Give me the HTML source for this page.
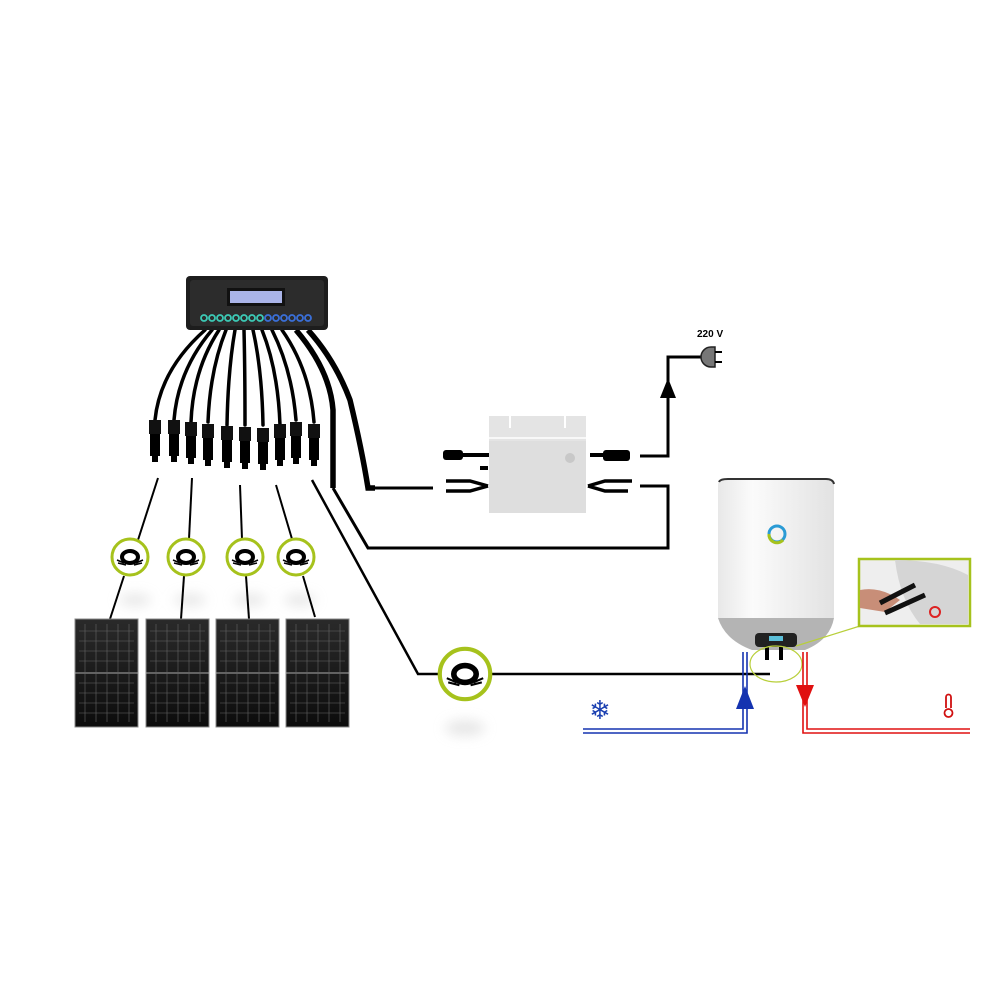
<!DOCTYPE html>
<html><head><meta charset="utf-8"><style>
html,body{margin:0;padding:0;background:#fff}
svg{display:block}
</style></head><body>
<svg width="1000" height="1000" viewBox="0 0 1000 1000" xmlns="http://www.w3.org/2000/svg">
<defs>
<filter id="bl" x="-50%" y="-50%" width="200%" height="200%"><feGaussianBlur stdDeviation="6"/></filter>
<linearGradient id="pg" x1="0" y1="0" x2="0" y2="1"><stop offset="0" stop-color="#2a2a2a"/><stop offset="1" stop-color="#0c0c0c"/></linearGradient>
<linearGradient id="hg" x1="0" y1="0" x2="1" y2="0"><stop offset="0" stop-color="#e8e8e8"/><stop offset="0.3" stop-color="#fbfbfb"/><stop offset="1" stop-color="#e2e2e2"/></linearGradient>
<g id="coil">
<circle r="18" fill="#fff" stroke="#a6c21c" stroke-width="3"/>
<ellipse cx="0" cy="0" rx="8" ry="6" fill="none" stroke="#000" stroke-width="4"/>
<path d="M-13,3 L-6,6 M13,3 L6,6 M-12,6 L-4,8 M12,6 L4,8" stroke="#000" stroke-width="1.5"/>
</g>
<g id="panel">
<rect x="0" y="0" width="63" height="108" fill="url(#pg)" stroke="#888" stroke-width="1"/>
<line x1="0" y1="54" x2="63" y2="54" stroke="#aaa" stroke-width="1"/>
<g stroke="#666" stroke-width="0.6">
<line x1="10" y1="5" x2="10" y2="103"/><line x1="21" y1="5" x2="21" y2="103"/><line x1="32" y1="5" x2="32" y2="103"/><line x1="43" y1="5" x2="43" y2="103"/><line x1="54" y1="5" x2="54" y2="103"/>
<line x1="4" y1="12" x2="59" y2="12"/><line x1="4" y1="22" x2="59" y2="22"/><line x1="4" y1="32" x2="59" y2="32"/><line x1="4" y1="42" x2="59" y2="42"/><line x1="4" y1="64" x2="59" y2="64"/><line x1="4" y1="74" x2="59" y2="74"/><line x1="4" y1="84" x2="59" y2="84"/><line x1="4" y1="94" x2="59" y2="94"/>
</g>
</g>
<g id="conn"><rect x="-6" y="0" width="12" height="14" fill="#111"/><rect x="-5" y="14" width="10" height="22" fill="#000"/><rect x="-3" y="36" width="6" height="6" fill="#000"/></g>
</defs>

<g fill="#ddd" filter="url(#bl)" opacity="0.7">
<ellipse cx="135" cy="600" rx="16" ry="6"/><ellipse cx="190" cy="600" rx="16" ry="6"/><ellipse cx="250" cy="600" rx="16" ry="6"/><ellipse cx="300" cy="600" rx="16" ry="6"/>
<ellipse cx="465" cy="728" rx="20" ry="8"/>
</g>

<g fill="none" stroke="#000" stroke-width="3.5" stroke-linecap="round">
<path d="M205,330 Q160,370 155,420"/>
<path d="M212,330 Q178,370 174,420"/>
<path d="M219,330 Q193,370 191,422"/>
<path d="M226,330 Q210,370 208,422"/>
<path d="M235,330 Q228,370 227,425"/>
<path d="M244,330 Q245,370 245,425"/>
<path d="M253,330 Q262,370 263,425"/>
<path d="M262,330 Q278,370 280,425"/>
<path d="M272,330 Q292,370 296,420"/>
<path d="M282,330 Q310,370 314,422"/>
</g>
<g fill="none" stroke="#000" stroke-width="5.5">
<path d="M296,330 Q330,370 333,410 L333,488"/>
<path d="M308,330 Q335,360 350,400 Q362,450 368,488 L375,488"/>
</g>
<use href="#conn" x="155" y="420"/><use href="#conn" x="174" y="420"/><use href="#conn" x="191" y="422"/><use href="#conn" x="208" y="424"/><use href="#conn" x="227" y="426"/><use href="#conn" x="245" y="427"/><use href="#conn" x="263" y="428"/><use href="#conn" x="280" y="424"/><use href="#conn" x="296" y="422"/><use href="#conn" x="314" y="424"/>

<rect x="186" y="276" width="142" height="54" rx="4" fill="#1d1d1d"/>
<rect x="190" y="280" width="134" height="46" rx="3" fill="#2c2c2c"/>
<rect x="227" y="288" width="58" height="18" fill="#111"/>
<rect x="230" y="291" width="52" height="12" fill="#aab4e8"/>
<g fill="none" stroke-width="1.8">
<g stroke="#3cc9b5"><circle cx="204" cy="318" r="3"/><circle cx="212" cy="318" r="3"/><circle cx="220" cy="318" r="3"/><circle cx="228" cy="318" r="3"/><circle cx="236" cy="318" r="3"/><circle cx="244" cy="318" r="3"/><circle cx="252" cy="318" r="3"/><circle cx="260" cy="318" r="3"/></g>
<g stroke="#3a6fd8"><circle cx="268" cy="318" r="3"/><circle cx="276" cy="318" r="3"/><circle cx="284" cy="318" r="3"/><circle cx="292" cy="318" r="3"/><circle cx="300" cy="318" r="3"/><circle cx="308" cy="318" r="3"/></g>
</g>

<g fill="none" stroke="#000" stroke-width="2">
<line x1="158" y1="478" x2="138" y2="540"/><line x1="124" y1="576" x2="110" y2="619"/>
<line x1="192" y1="478" x2="189" y2="539"/><line x1="184" y1="576" x2="181" y2="619"/>
<line x1="240" y1="485" x2="242" y2="539"/><line x1="246" y1="576" x2="249" y2="619"/>
<line x1="276" y1="485" x2="292" y2="539"/><line x1="303" y1="576" x2="315" y2="617"/>
<polyline points="312,480 418,674 770,674" stroke-width="2.5"/>
<polyline points="333,488 368,548 668,548 668,486 640,486" stroke-width="3"/>
<line x1="375" y1="488" x2="433" y2="488" stroke-width="3"/>
<polyline points="640,456 668,456 668,357 704,357" stroke-width="3"/>
</g>
<polygon points="668,378 660,398 676,398" fill="#000"/>

<use href="#coil" x="130" y="557"/><use href="#coil" x="186" y="557"/><use href="#coil" x="245" y="557"/><use href="#coil" x="296" y="557"/>
<g transform="translate(465,674) scale(1.4)"><use href="#coil"/></g>

<use href="#panel" x="75" y="619"/><use href="#panel" x="146" y="619"/><use href="#panel" x="216" y="619"/><use href="#panel" x="286" y="619"/>

<rect x="489" y="416" width="97" height="25" fill="#e4e4e4"/>
<line x1="489" y1="438" x2="586" y2="438" stroke="#fff" stroke-width="1.5"/>
<path d="M510,416 L510,428 M565,416 L565,428" stroke="#fff" stroke-width="2"/>
<rect x="489" y="441" width="97" height="72" fill="#dedede"/>
<circle cx="570" cy="458" r="5" fill="#c8c8c8"/>
<rect x="443" y="450" width="20" height="10" rx="3" fill="#000"/><rect x="463" y="453" width="26" height="4" fill="#000"/>
<rect x="480" y="466" width="8" height="4" fill="#000"/>
<path d="M446,481 L470,481 L488,486 M446,491 L470,491 L488,486" stroke="#000" stroke-width="3.5" fill="none"/>
<rect x="590" y="453" width="14" height="4" fill="#000"/><rect x="603" y="450" width="27" height="11" rx="3" fill="#000"/>
<path d="M588,486 L605,481 L632,481 M588,486 L605,491 L628,491" stroke="#000" stroke-width="3.5" fill="none"/>

<path d="M715,347 L715,367 L711,367 A10,10 0 0 1 711,347 Z" fill="#777" stroke="#222" stroke-width="1.5"/>
<line x1="715" y1="352" x2="722" y2="352" stroke="#000" stroke-width="2"/><line x1="715" y1="362" x2="722" y2="362" stroke="#000" stroke-width="2"/>
<text x="697" y="337" font-family="Liberation Sans, sans-serif" font-size="10" font-weight="bold" fill="#000">220 V</text>

<path d="M718,485 Q718,479 726,479 L826,479 Q834,479 834,485 L834,618 L718,618 Z" fill="url(#hg)"/>
<path d="M719,482 Q720,479 728,479 L826,479 Q833,479 834,484" stroke="#333" stroke-width="2" fill="none"/>
<path d="M718,618 L834,618 Q830,640 805,650 L752,650 Q725,640 718,618 Z" fill="#b4b4b4"/>
<rect x="755" y="633" width="42" height="14" rx="4" fill="#222"/>
<rect x="769" y="636" width="14" height="5" fill="#5bbfd8"/>
<rect x="765" y="646" width="4" height="14" fill="#000"/><rect x="779" y="646" width="4" height="14" fill="#000"/>
<circle cx="777" cy="534" r="8" fill="none" stroke="#2a9bd5" stroke-width="3"/>
<path d="M769,534 A8,8 0 0 0 783,540" stroke="#a6c21c" stroke-width="3" fill="none"/>
<ellipse cx="776" cy="664" rx="26" ry="18" fill="none" stroke="#b8cf3a" stroke-width="1.2"/>
<line x1="796" y1="646" x2="860" y2="626" stroke="#b8cf3a" stroke-width="1.2"/>
<rect x="859" y="559" width="111" height="67" fill="#eee" stroke="#a6c21c" stroke-width="2.5"/>
<path d="M895,560 Q940,560 968,575 L968,624 L920,624 Q900,600 895,560 Z" fill="#d5d5d5"/>
<path d="M860,590 Q880,586 900,600 L885,612 L860,608 Z" fill="#c88e78"/>
<path d="M880,603 L915,585 M885,613 L925,595" stroke="#111" stroke-width="5"/>
<circle cx="935" cy="612" r="5" fill="none" stroke="#d22" stroke-width="2"/>

<g fill="none" stroke-width="1.6">
<polyline points="583,729 743,729 743,652" stroke="#1533b0"/>
<polyline points="583,733 747,733 747,652" stroke="#1533b0"/>
<polyline points="803,652 803,733 970,733" stroke="#e01010"/>
<polyline points="807,652 807,729 970,729" stroke="#e01010"/>
</g>
<polygon points="745,686 736,709 754,709" fill="#1533b0"/>
<polygon points="805,707 796,685 814,685" fill="#e01010"/>
<text x="600" y="719" font-family="DejaVu Sans, sans-serif" font-size="26" font-weight="bold" fill="#1a3fb0" text-anchor="middle">❄</text>
<g fill="none" stroke="#d01010" stroke-width="1.8"><path d="M946,708 L946,697 A2.5,2.5 0 0 1 951,697 L951,708"/><circle cx="948.5" cy="713" r="4"/></g>
</svg>
</body></html>
